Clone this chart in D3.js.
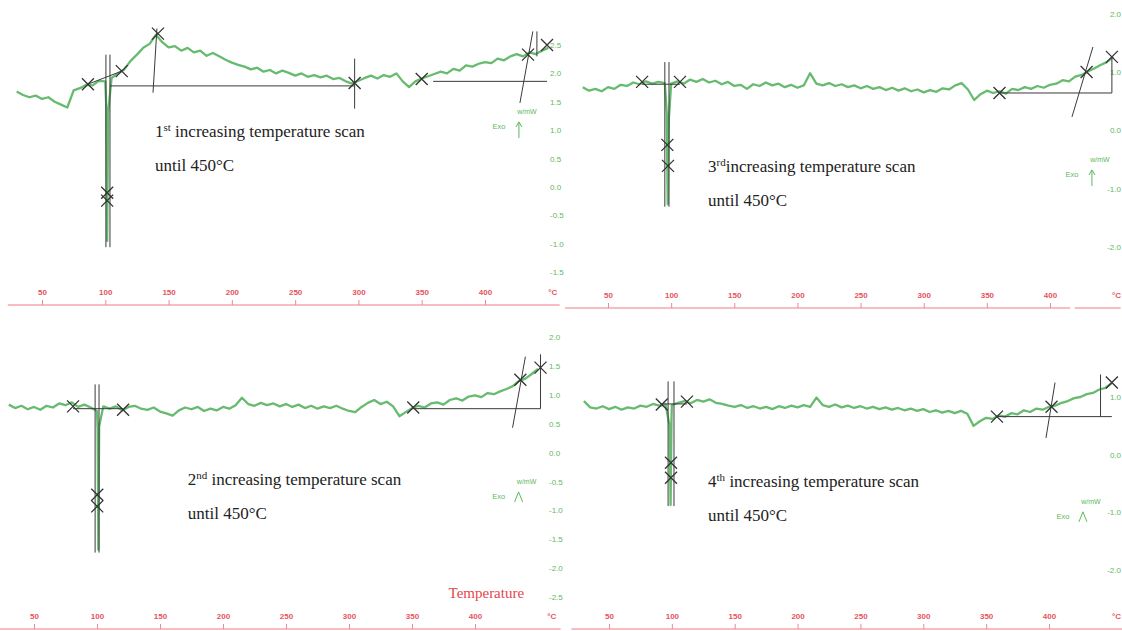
<html>
<head>
<style>
body { margin: 0; background: #fff; }
svg { display: block; background: #fff; }
.x.axis text { font-family: "Liberation Sans", sans-serif; font-size: 8px; font-weight: bold; fill: #e4555c; }
.x.axis line { stroke: #ef8a8a; }
.x.axis .domain { display: none; }
.y.axis text { font-family: "Liberation Sans", sans-serif; font-size: 8px; fill: #62b862; }
.y.axis .domain, .y.axis line { display: none; }
.scan { font-family: "Liberation Serif", serif; font-size: 17px; fill: #222; }
.exo { font-family: "Liberation Sans", sans-serif; font-size: 7px; fill: #5cb85c; }
</style>
</head>
<body>
<svg width="1122" height="631"></svg>
<script src="https://d3js.org/d3.v7.min.js"></script>
<script>

// temperature grid (°C) shared by the four scans
let temps = [30, 35, 40, 45, 50, 55, 60, 65, 70, 75,
    80, 85, 90, 95, 100, 105, 110, 115, 120, 125,
    130, 135, 140, 145, 150, 155, 160, 165, 170, 175,
    180, 185, 190, 195, 200, 205, 210, 215, 220, 225,
    230, 235, 240, 245, 250, 255, 260, 265, 270, 275,
    280, 285, 290, 295, 300, 305, 310, 315, 320, 325,
    330, 335, 340, 345, 350, 355, 360, 365, 370, 375,
    380, 385, 390, 395, 400, 405, 410, 415, 420, 425,
    430, 435, 440, 445, 450]

// heat flow (mW)
let scan1 = [1.68, 1.62, 1.58, 1.61, 1.55, 1.58, 1.50, 1.45, 1.40, 1.70,
    1.74, 1.80, 1.79, 1.87, 1.86, 1.92, 2.00, 2.07, 2.22, 2.33,
    2.45, 2.52, 2.68, 2.55, 2.46, 2.48, 2.40, 2.45, 2.37, 2.40,
    2.31, 2.36, 2.30, 2.24, 2.19, 2.15, 2.12, 2.07, 2.10, 2.03,
    2.06, 2.00, 2.05, 2.01, 1.96, 2.00, 1.94, 1.97, 1.93, 1.96,
    1.90, 1.92, 1.86, 1.82, 1.87, 1.92, 1.96, 1.91, 1.97, 1.94,
    2.00, 1.86, 1.76, 1.86, 1.91, 1.95, 1.99, 2.03, 2.00, 2.08,
    2.05, 2.14, 2.12, 2.17, 2.20, 2.18, 2.26, 2.23, 2.30, 2.34,
    2.30, 2.37, 2.34, 2.40, 2.45]

let scan2 = [0.74, 0.68, 0.71, 0.67, 0.74, 0.71, 0.78, 0.76, 0.82, 0.79,
    0.84, 0.80, 0.83, 0.81, 0.80, 0.84, 0.80, 0.87, 0.83, 0.88,
    0.82, 0.85, 0.79, 0.83, 0.76, 0.78, 0.71, 0.79, 0.76, 0.82,
    0.77, 0.80, 0.74, 0.78, 0.73, 0.77, 0.98, 0.80, 0.77, 0.81,
    0.76, 0.79, 0.74, 0.77, 0.72, 0.76, 0.71, 0.74, 0.69, 0.73,
    0.68, 0.72, 0.67, 0.70, 0.65, 0.69, 0.66, 0.72, 0.70, 0.77,
    0.81, 0.70, 0.52, 0.62, 0.68, 0.64, 0.67, 0.63, 0.71, 0.69,
    0.74, 0.71, 0.76, 0.73, 0.78, 0.80, 0.86, 0.84, 0.92, 0.95,
    1.01, 1.06, 1.12, 1.17, 1.26]

let scan3 = [0.83, 0.77, 0.81, 0.75, 0.79, 0.74, 0.81, 0.78, 0.85, 0.82,
    0.87, 0.79, 0.83, 0.78, 0.72, 0.80, 0.76, 0.80, 0.73, 0.79,
    0.81, 0.76, 0.74, 0.78, 0.71, 0.68, 0.64, 0.73, 0.78, 0.75,
    0.79, 0.72, 0.76, 0.73, 0.79, 0.76, 0.82, 0.95, 0.84, 0.81,
    0.86, 0.82, 0.85, 0.80, 0.84, 0.79, 0.83, 0.77, 0.81, 0.76,
    0.80, 0.77, 0.81, 0.76, 0.72, 0.70, 0.79, 0.86, 0.91, 0.84,
    0.88, 0.80, 0.63, 0.70, 0.77, 0.81, 0.78, 0.85, 0.87, 0.83,
    0.91, 0.94, 0.90, 0.97, 0.99, 0.96, 1.03, 1.01, 1.06, 1.10,
    1.15, 1.24, 1.28, 1.36, 1.45]

let scan4 = [0.93, 0.82, 0.80, 0.84, 0.79, 0.83, 0.78, 0.82, 0.80, 0.85,
    0.83, 0.88, 0.85, 0.87, 0.86, 0.90, 0.93, 0.89, 0.95, 0.92,
    0.96, 0.90, 0.88, 0.85, 0.83, 0.86, 0.81, 0.84, 0.80, 0.83,
    0.79, 0.84, 0.81, 0.85, 0.82, 0.86, 0.83, 0.99, 0.86, 0.83,
    0.87, 0.82, 0.85, 0.81, 0.84, 0.80, 0.83, 0.79, 0.82, 0.78,
    0.81, 0.77, 0.80, 0.76, 0.79, 0.74, 0.77, 0.73, 0.76, 0.72,
    0.76, 0.71, 0.50, 0.58, 0.64, 0.62, 0.68, 0.66, 0.72, 0.70,
    0.77, 0.74, 0.80, 0.78, 0.83, 0.85, 0.90, 0.93, 0.98, 1.00,
    1.05, 1.07, 1.13, 1.16, 1.24]

// sharp endothermic dip near 100 °C, [T, mW]
let dip1 = [[100.8, 1.40], [101.5, -0.95], [102.2, 1.30]]
let dip2 = [[96.5, 0.30], [97.3, -1.27], [98.2, 0.20]]
let dip3 = [[100.5, 0.40], [101.1, -1.68], [101.7, 0.45]]
let dip4 = [[98.2, 0.50], [99.0, -0.87], [99.7, 0.60]]

let xTicks = [50, 100, 150, 200, 250, 300, 350, 400]
let yTicks1 = [2.5, 2.0, 1.5, 1.0, 0.5, 0.0, -0.5, -1.0, -1.5]
let yTicks2 = [2, 1, 0, -1, -2]
let yTicks3 = [2.0, 1.5, 1.0, 0.5, 0.0, -0.5, -1.0, -1.5, -2.0, -2.5]
let yTicks4 = [1, 0, -1, -2]

// hand drawn evaluation marks (crosses) [T, mW]
let marks1 = [[86.3, 1.81], [113, 2.04], [141.6, 2.70], [101.5, -0.10], [101.5, -0.24],
    [297, 1.83], [350, 1.90], [434, 2.33], [449, 2.50]]
let marks2 = [[77, 0.83], [107, 0.83], [97, -0.25], [97.5, -0.61], [360, 0.64], [429, 1.0], [449, 1.26]]
let marks3 = [[81, 0.80], [120.7, 0.74], [100.2, -0.73], [100.2, -0.93], [351, 0.78], [436, 1.26], [452, 1.47]]
let marks4 = [[92, 0.87], [112, 0.92], [99.3, -0.14], [99.3, -0.40], [358.6, 0.66], [402, 0.83], [450, 1.25]]

// baselines and tangents [[T1, mW1], [T2, mW2]]
let segs1 = [[[86.3, 1.81], [113, 2.04]], [[100.5, 2.33], [100.5, -1.06]], [[103.7, 2.33], [103.7, -1.06]],
    [[103.7, 1.78], [297, 1.78]], [[140.8, 2.79], [137.7, 1.66]], [[297, 2.26], [297, 1.38]],
    [[359, 1.86], [449, 1.86]], [[437.8, 2.74], [427.6, 1.48]], [[441, 2.74], [441, 2.30]]]
let segs2 = [[[77, 0.79], [107, 0.79]], [[95, 1.17], [95, -1.31]], [[98.3, 1.17], [98.3, -1.31]],
    [[360, 0.64], [449, 0.64]], [[449, 1.26], [449, 0.64]], [[434, 1.43], [417.4, 0.23]]]
let segs3 = [[[81, 0.76], [120.7, 0.76]], [[98.5, 1.18], [98.5, -1.73]], [[101.6, 1.18], [101.6, -1.73]],
    [[351, 0.76], [452, 0.76]], [[452, 1.70], [452, 0.76]], [[440, 1.66], [429.8, 0.43]]]
let segs4 = [[[92, 0.88], [112, 0.88]], [[97, 1.27], [97, -0.89]], [[101.7, 1.27], [101.7, -0.89]],
    [[358.6, 0.66], [450, 0.66]], [[441, 1.39], [441, 0.66]], [[404.8, 1.25], [397.6, 0.29]]]

let ordinals = ["1", "3", "2", "4"]
let suffixes = ["st", "rd", "nd", "th"]

let width = 1122

let svg = d3.select("svg")

let panels = [
    {values: scan1, dip: dip1, yTicks: yTicks1, marks: marks1, segs: segs1, gap: " ",
     xr: [42, 485], yr: [187, 45], yd: [0, 2.5], axisY: 305, axisT: [[23, 459]], labX: 550, unitT: 453.6,
     title: [139.3, 0.88], exo: [426.8, 1.145], head: "up"},
    {values: scan2, dip: dip2, yTicks: yTicks2, marks: marks2, segs: segs2, gap: "",
     xr: [608, 1050], yr: [130.3, 72], yd: [0, 1], axisY: 308, axisT: [[16, 416], [419.5, 456]], labX: null, unitT: null,
     title: [129.2, -0.715], exo: [433.2, -0.68], head: "up"},
    {values: scan3, dip: dip3, yTicks: yTicks3, marks: marks3, segs: segs3, gap: " ",
     xr: [34, 475], yr: [452.6, 337], yd: [0, 2], axisY: 629, axisT: [[23, 468]], labX: 549, unitT: 461,
     title: [172, -0.56], exo: [434.6, -0.68], head: "wedge", temperature: [379, -2.52]},
    {values: scan4, dip: dip4, yTicks: yTicks4, marks: marks4, segs: segs4, gap: " ",
     xr: [609, 1049], yr: [454.7, 397], yd: [0, 1], axisY: 629, axisT: [[20, 462]], labX: null, unitT: null,
     title: [128.8, -0.56], exo: [427, -0.99], head: "wedge"}
]

panels.forEach((p, i) => {
    let x = d3.scaleLinear().domain([50, 400]).range(p.xr)
    let y = d3.scaleLinear().domain(p.yd).range(p.yr)
    let g = svg.append("g").attr("class", "panel")

    // red temperature axis
    g.selectAll(".baseline")
        .data(p.axisT)
        .join("line")
        .attr("x1", d => x(d[0]))
        .attr("x2", d => x(d[1]))
        .attr("y1", p.axisY)
        .attr("y2", p.axisY)
        .style("stroke", "#ef7f85")
        .style("stroke-width", 1.2)

    g.append("g")
        .attr("class", "x axis")
        .attr("transform", `translate(0, ${p.axisY})`)
        .call(d3.axisTop(x).tickValues(xTicks).tickSize(5).tickPadding(5))

    // right hand panels sit against the page edge, so their labels end there
    let atEdge = p.labX == null
    g.append("text")
        .attr("x", atEdge ? width - 1 : x(p.unitT))
        .attr("y", p.axisY - 10)
        .attr("text-anchor", atEdge ? "end" : "middle")
        .style("font-family", "Liberation Sans, sans-serif")
        .style("font-size", "8px")
        .style("font-weight", "bold")
        .style("fill", "#e4555c")
        .text("°C")

    // heat flow labels on the right
    let yAxis = g.append("g")
        .attr("class", "y axis")
        .attr("transform", `translate(${atEdge ? width - 1 : p.labX}, 0)`)
        .call(d3.axisRight(y).tickValues(p.yTicks).tickSize(0).tickPadding(0).tickFormat(d => d.toFixed(1)))
    if (atEdge) yAxis.selectAll("text").attr("text-anchor", "end")

    // green DSC trace
    let pts = temps.map((t, j) => [t, p.values[j]]).concat(p.dip).sort((a, b) => a[0] - b[0])
    g.append("path")
        .datum(pts)
        .attr("d", d3.line().x(d => x(d[0])).y(d => y(d[1])))
        .style("fill", "none")
        .style("stroke", "#66bb6e")
        .style("stroke-width", 2.3)
        .style("stroke-linejoin", "round")

    // evaluation lines
    g.selectAll(".seg")
        .data(p.segs)
        .join("line")
        .attr("class", "seg")
        .attr("x1", d => x(d[0][0]))
        .attr("y1", d => y(d[0][1]))
        .attr("x2", d => x(d[1][0]))
        .attr("y2", d => y(d[1][1]))
        .style("stroke", "#3a3a3a")
        .style("stroke-width", 1)

    g.selectAll(".mark")
        .data(p.marks)
        .join("path")
        .attr("class", "mark")
        .attr("transform", d => `translate(${x(d[0])}, ${y(d[1])})`)
        .attr("d", "M-6,-6L6,6M6,-6L-6,6")
        .style("stroke", "#333")
        .style("stroke-width", 1.3)

    // scan caption
    let cx = x(p.title[0])
    let cy = y(p.title[1])
    let t1 = g.append("text").attr("class", "scan").attr("x", cx).attr("y", cy)
    t1.append("tspan").text(ordinals[i])
    t1.append("tspan").attr("dy", -6).style("font-size", "11px").text(suffixes[i])
    t1.append("tspan").attr("dy", 6).text(p.gap + "increasing temperature scan")
    g.append("text").attr("class", "scan").attr("x", cx).attr("y", cy + 34).text("until 450°C")

    // Exo marker
    let ex = x(p.exo[0])
    let ey = y(p.exo[1])
    g.append("text").attr("class", "exo").attr("x", ex + 8).attr("y", ey - 8)
        .attr("text-anchor", "middle").text("w/mW")
    g.append("text").attr("class", "exo").attr("x", ex - 20).attr("y", ey + 7)
        .attr("text-anchor", "middle").style("font-size", "7.5px").text("Exo")
    let arrow = p.head == "up" ? "M0,0L0,16M-3,5L0,0L3,5" : "M-4,10L0,0L4,10"
    g.append("path")
        .attr("transform", `translate(${ex}, ${ey})`)
        .attr("d", arrow)
        .style("fill", "none")
        .style("stroke", "#5cb85c")
        .style("stroke-width", 1)

    if (p.temperature) {
        g.append("text")
            .attr("x", x(p.temperature[0]))
            .attr("y", y(p.temperature[1]))
            .style("font-family", "Liberation Serif, serif")
            .style("font-size", "15px")
            .style("fill", "#e4464d")
            .text("Temperature")
    }
})

</script>
</body>
</html>
